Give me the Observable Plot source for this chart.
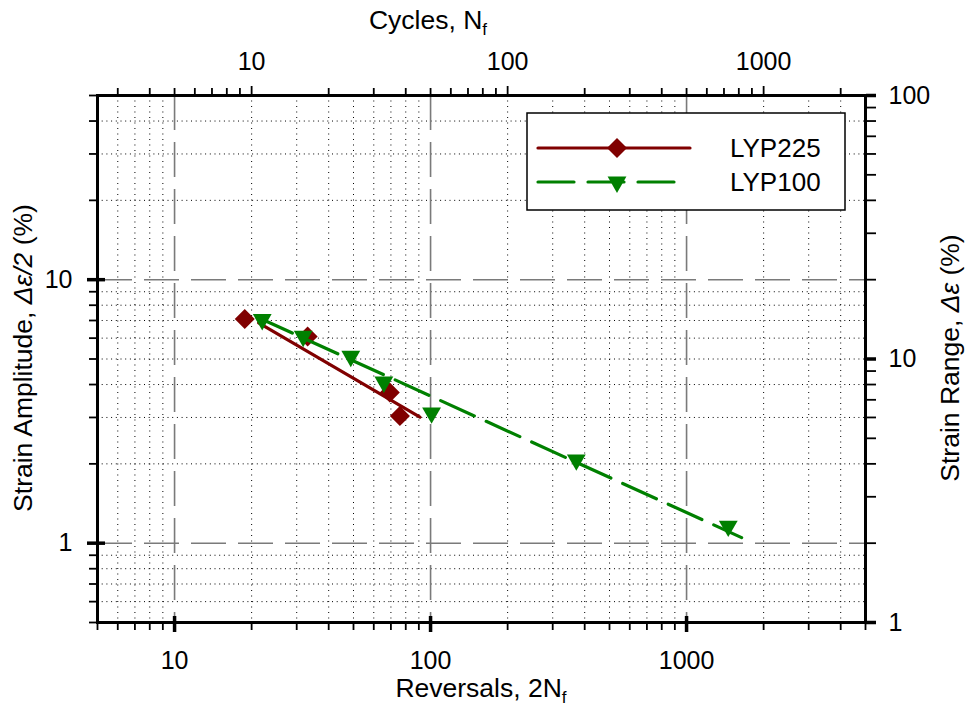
<!DOCTYPE html>
<html>
<head>
<meta charset="utf-8">
<script src="https://cdn.jsdelivr.net/npm/d3@7"></script>
<script src="https://cdn.jsdelivr.net/npm/@observablehq/plot@0.6"></script>
<style>
  body { margin: 0; background: #fff; }
  #chart { position: relative; width: 967px; height: 716px; }
</style>
</head>
<body>
<div id="chart"></div>
<script>
// ---- Data ----
const seriesNames = ["LYP225", "LYP100"];
const seriesColors = ["#800000", "#008000"];

const lyp225Rev = [18.8, 33.1, 69.3, 75.9];
const lyp225Amp = [7.09, 6.09, 3.73, 3.04];
const lyp100Rev = [22.0, 31.8, 48.8, 65.7, 100.9, 371, 1455];
const lyp100Amp = [7.06, 6.10, 5.12, 4.09, 3.12, 2.07, 1.16];

// fitted lines (endpoints)
const lyp225FitRev = [21.3, 90.9];
const lyp225FitAmp = [6.86, 3.01];
const lyp100FitRev = [21.3, 1641];
const lyp100FitAmp = [7.17, 1.05];

// ticks
const xMajor = [10, 100, 1000];
const xMinor = [5, 6, 7, 8, 9, 20, 30, 40, 50, 60, 70, 80, 90, 200, 300, 400, 500, 600, 700, 800, 900, 2000, 3000, 4000, 5000];
const yMajor = [1, 10];
const yMinor = [0.5, 0.6, 0.7, 0.8, 0.9, 2, 3, 4, 5, 6, 7, 8, 9, 20, 30, 40, 50];
const cyclesMajor = [10, 100, 1000];
const cyclesMinor = [3, 4, 5, 6, 7, 8, 9, 20, 30, 40, 50, 60, 70, 80, 90, 200, 300, 400, 500, 600, 700, 800, 900, 2000];
const rangeMajor = [1, 10, 100];
const rangeMinor = [2, 3, 4, 5, 6, 7, 8, 9, 20, 30, 40, 50, 60, 70, 80, 90];

// ---- tables ----
const pts225 = lyp225Rev.map((x, i) => ({x, y: lyp225Amp[i]}));
const pts100 = lyp100Rev.map((x, i) => ({x, y: lyp100Amp[i]}));
const fit225 = lyp225FitRev.map((x, i) => ({x, y: lyp225FitAmp[i]}));
const fit100 = lyp100FitRev.map((x, i) => ({x, y: lyp100FitAmp[i]}));

// ---- symbols ----
const diamondSym = {
  draw(ctx, size) {
    const r = Math.sqrt(size / 2);
    ctx.moveTo(0, -r); ctx.lineTo(r, 0); ctx.lineTo(0, r); ctx.lineTo(-r, 0); ctx.closePath();
  }
};
const triDownSym = {
  draw(ctx, size) {
    const h = Math.sqrt(size / (3 * Math.sqrt(3)));
    const w = Math.sqrt(3) * h;
    ctx.moveTo(0, 2 * h); ctx.lineTo(-w, -h); ctx.lineTo(w, -h); ctx.closePath();
  }
};

const FONT = "'Liberation Sans', Arial, Helvetica, sans-serif";
const noText = () => null;
const TICKFS = 25;
const TITLEFS = 26.5;

const chart = Plot.plot({
  width: 967,
  height: 716,
  marginLeft: 97,
  marginRight: 102,
  marginTop: 95,
  marginBottom: 94,
  style: {fontFamily: FONT, fontSize: "25px", color: "#000", background: "#fff", overflow: "visible"},
  x: {type: "log", domain: [5, 5000]},
  y: {type: "log", domain: [0.5, 50]},
  marks: [
    // grids
    Plot.ruleX(xMinor, {stroke: "#000", strokeWidth: 1, strokeDasharray: "1,4.5"}),
    Plot.ruleY(yMinor, {stroke: "#000", strokeWidth: 1, strokeDasharray: "1,3.7"}),
    Plot.ruleX(xMajor, {stroke: "#7a7a7a", strokeWidth: 1.6, strokeDasharray: "35,12"}),
    Plot.ruleY(yMajor, {stroke: "#7a7a7a", strokeWidth: 1.6, strokeDasharray: "35,12"}),
    // data
    Plot.line(fit225, {x: "x", y: "y", stroke: seriesColors[0], strokeWidth: 3.2, strokeLinecap: "round"}),
    Plot.dot(pts225, {x: "x", y: "y", symbol: diamondSym, r: 8, fill: seriesColors[0]}),
    Plot.line(fit100, {x: "x", y: "y", stroke: seriesColors[1], strokeWidth: 3.2, strokeDasharray: "37,13", strokeLinecap: "round"}),
    Plot.dot(pts100, {x: "x", y: "y", symbol: triDownSym, r: 7, fill: seriesColors[1]}),
    // frame
    Plot.frame({stroke: "#000", strokeWidth: 3}),
    // bottom axis
    Plot.axisX(xMinor, {anchor: "bottom", tickSize: 8, strokeWidth: 1.8, tickFormat: noText, label: null}),
    Plot.axisX(xMajor, {anchor: "bottom", tickSize: 10, tickPadding: 19, strokeWidth: 3.5, fontSize: TICKFS, tickFormat: d => String(d), label: null}),
    Plot.axisX(xMajor, {anchor: "bottom", tickSize: -6, strokeWidth: 3.5, tickFormat: noText, label: null}),
    // top axis (cycles = reversals / 2)
    Plot.axisX(cyclesMinor.map(c => 2 * c), {anchor: "top", tickSize: 8, strokeWidth: 1.8, tickFormat: noText, label: null}),
    Plot.axisX(cyclesMajor.map(c => 2 * c), {anchor: "top", tickSize: 10, tickPadding: 16, strokeWidth: 1.8, fontSize: TICKFS, tickFormat: d => String(Math.round(d / 2)), label: null}),
    // left axis
    Plot.axisY(yMinor, {anchor: "left", tickSize: 8, strokeWidth: 1.8, tickFormat: noText, label: null}),
    Plot.axisY(yMajor, {anchor: "left", tickSize: 10, tickPadding: 15, strokeWidth: 3.5, fontSize: TICKFS, tickFormat: d => String(d), label: null}),
    Plot.axisY(yMajor, {anchor: "left", tickSize: -8, strokeWidth: 3.5, tickFormat: noText, label: null}),
    // right axis (range = 2 × amplitude)
    Plot.axisY(rangeMinor.map(r => r / 2), {anchor: "right", tickSize: 10, strokeWidth: 1.8, tickFormat: noText, label: null}),
    Plot.axisY(rangeMajor.map(r => r / 2), {anchor: "right", tickSize: 10, tickPadding: 13, strokeWidth: 3.5, fontSize: TICKFS, tickFormat: d => String(Math.round(d * 2)), label: null})
  ]
});

document.getElementById("chart").appendChild(chart);

// ---- titles & legend ----
const svg = d3.select(chart);
const g = svg.append("g").attr("font-family", FONT).attr("fill", "#000");

function titleWithSub(x, y, main, sub) {
  const t = g.append("text").attr("x", x).attr("y", y).attr("text-anchor", "middle").attr("font-size", TITLEFS);
  t.append("tspan").text(main);
  t.append("tspan").attr("font-size", 17).attr("dy", 6).text(sub);
}
titleWithSub(428, 29, "Cycles, N", "f");
titleWithSub(481, 697, "Reversals, 2N", "f");

const lt = g.append("text").attr("transform", "translate(32,358) rotate(-90)").attr("text-anchor", "middle").attr("font-size", TITLEFS);
lt.append("tspan").text("Strain Amplitude, ");
lt.append("tspan").attr("font-style", "italic").text("Δε/2");
lt.append("tspan").text(" (%)");

const rt = g.append("text").attr("transform", "translate(959,358) rotate(-90)").attr("text-anchor", "middle").attr("font-size", TITLEFS);
rt.append("tspan").text("Strain Range, ");
rt.append("tspan").attr("font-style", "italic").text("Δε");
rt.append("tspan").text(" (%)");

// legend
const lg = g.append("g");
lg.append("rect").attr("x", 527).attr("y", 113).attr("width", 318).attr("height", 97)
  .attr("fill", "#fff").attr("stroke", "#000").attr("stroke-width", 1.5);
const legendRows = [
  {name: seriesNames[0], color: seriesColors[0], sym: diamondSym, size: Math.PI * 64, dash: null, y: 148, x2: 690},
  {name: seriesNames[1], color: seriesColors[1], sym: triDownSym, size: Math.PI * 49, dash: "36,14", y: 182, x2: 674}
];
legendRows.forEach(r => {
  const ln = lg.append("line").attr("x1", 538).attr("x2", r.x2).attr("y1", r.y).attr("y2", r.y)
    .attr("stroke", r.color).attr("stroke-width", 3.2).attr("stroke-linecap", "round");
  if (r.dash) ln.attr("stroke-dasharray", r.dash);
  lg.append("path").attr("d", d3.symbol().type(r.sym).size(r.size)()).attr("transform", `translate(617,${r.y})`).attr("fill", r.color);
  lg.append("text").attr("x", 730).attr("y", r.y).attr("dy", "0.36em").attr("text-anchor", "start").attr("font-size", 26).text(r.name);
});
</script>
</body>
</html>
